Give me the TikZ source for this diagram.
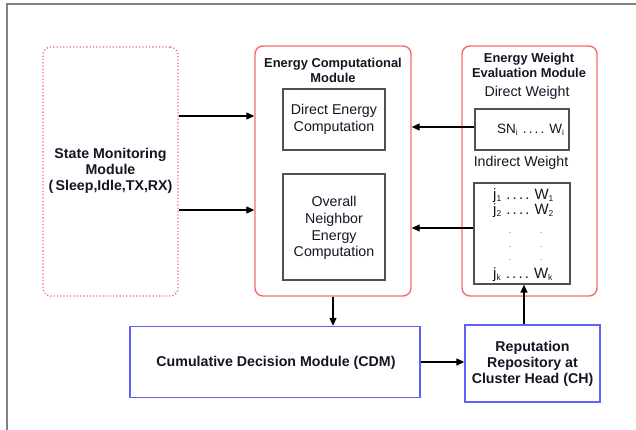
\documentclass[tikz,border=0pt]{standalone}
\usepackage{fontspec}
\setmainfont{Liberation Sans}
\usetikzlibrary{arrows.meta,calc}
\definecolor{myred}{RGB}{250,105,110}
\definecolor{myblue}{RGB}{95,95,250}
\definecolor{boxgray}{RGB}{80,80,80}
\definecolor{framegray}{RGB}{130,130,130}
\definecolor{txt}{RGB}{20,20,35}
\newcommand{\sbs}[1]{\raisebox{-1.5pt}{\fontsize{8.5}{9}\selectfont #1}}
\newcommand{\ldts}{\hspace{5pt}.\kern2.2pt.\kern2.2pt.\kern2.2pt.\hspace{5pt}}
\begin{document}
\begin{tikzpicture}[x=1pt,y=-1pt,
  redbox/.style={draw=myred,line width=1.4pt,rounded corners=8pt,inner sep=0pt},
  dotbox/.style={draw=myred,line width=1.3pt,dotted,rounded corners=8pt,inner sep=0pt},
  graybox/.style={draw=boxgray,line width=1.2pt,inner sep=0pt},
  bluebox/.style={draw=myblue,line width=1.4pt,inner sep=0pt},
  btxt/.style={font=\fontsize{14.2}{16.2}\selectfont\bfseries,text=txt,align=center},
  ttl/.style={font=\fontsize{12.9}{15}\selectfont\bfseries,text=txt,align=center},
  rtxt/.style={font=\fontsize{14.2}{16.8}\selectfont,text=txt,align=center},
  wtxt/.style={font=\fontsize{15}{15}\selectfont,text=txt,inner sep=0pt},
  arr/.style={-{Triangle[length=8pt,width=7pt]},line width=1.3pt,draw=black}]
\useasboundingbox (0,0) rectangle (636,430);
\draw[framegray,line width=1.5pt] (6,4) -- (636,4);
\draw[framegray,line width=1.5pt] (7,4) -- (7,430);
% left
\node[dotbox,minimum width=135pt,minimum height=249pt] (state) at (110.5,171.5) {};
\node[btxt] (statet) at (110.5,171) {State Monitoring\\Module\\(\,Sleep,Idle,TX,RX)};
% middle
\node[redbox,minimum width=156pt,minimum height=250pt] (ecm) at (333,171) {};
\node[ttl] (ecmt) at (333,70.5) {Energy Computational\\Module};
\node[graybox,minimum width=102pt,minimum height=61pt] (dec) at (334,119.5) {};
\node[rtxt] (dect) at (334,119.5) {Direct Energy\\Computation};
\node[graybox,minimum width=102pt,minimum height=106pt] (one) at (334,227) {};
\node[rtxt] (onet) at (334,228) {Overall\\Neighbor\\Energy\\Computation};
% right
\node[redbox,minimum width=135pt,minimum height=250pt] (ewe) at (529.5,171) {};
\node[ttl] (ewet) at (529,65.5) {Energy Weight\\Evaluation Module};
\node[rtxt] (dw) at (527,93) {Direct Weight};
\node[graybox,minimum width=94pt,minimum height=41pt] (sn) at (522,129.5) {};
\node[font=\fontsize{13.5}{15}\selectfont,text=txt,inner sep=0pt,anchor=west] (snt) at (497,130) {SN\sbs{i}\ldts W\sbs{i}};
\node[rtxt] (iw) at (521,163) {Indirect Weight};
\node[graybox,minimum width=96pt,minimum height=101pt] (jk) at (522,233.5) {};
\node[wtxt,anchor=west] (j1) at (493,196) {j\sbs{1}\ldts W\sbs{1}};
\node[wtxt,anchor=west] (j2) at (493,211) {j\sbs{2}\ldts W\sbs{2}};
\foreach \yy [count=\k] in {233,247,260}{
  \node[font=\scriptsize,inner sep=0pt,text=txt] (da\k) at (510,\yy) {.};
  \node[font=\scriptsize,inner sep=0pt,text=txt] (db\k) at (541,\yy) {.};
}
\node[wtxt,anchor=west] (jkk) at (493,275) {j\sbs{k}\ldts W\sbs{k}};
% bottom
\node[bluebox,minimum width=290pt,minimum height=71pt] (cdm) at (275,362) {};
\node[btxt] (cdmt) at (276,363) {Cumulative Decision Module (CDM)};
\node[bluebox,minimum width=135pt,minimum height=77pt] (rep) at (532.5,363.5) {};
\node[btxt] (rept) at (532.5,364) {Reputation\\Repository at\\Cluster Head (CH)};
% arrows
\draw[arr] (state.east |- 0,116) -- (ecm.west |- 0,116);
\draw[arr] (state.east |- 0,210) -- (ecm.west |- 0,210);
\draw[arr] (sn.west |- 0,127) -- (ecm.east |- 0,127);
\draw[arr] (jk.west |- 0,228) -- (ecm.east |- 0,228);
\draw[arr] (ecm.south) -- (cdm.north -| ecm.south);
\draw[arr] (cdm.east) -- (rep.west |- cdm.east);
\draw[arr] (rep.north -| 524,0) -- (jk.south -| 524,0);
\end{tikzpicture}
\end{document}
